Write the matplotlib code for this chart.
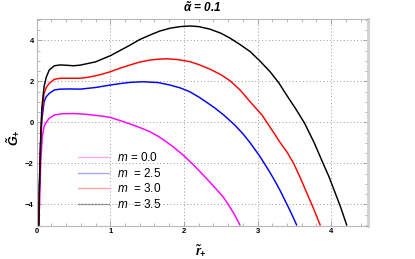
import matplotlib
matplotlib.use("Agg")
import matplotlib.pyplot as plt
from matplotlib.lines import Line2D
from matplotlib.ticker import MultipleLocator

plt.rcParams['font.family'] = ['Liberation Sans', 'DejaVu Sans']
plt.rcParams['mathtext.fontset'] = 'custom'
plt.rcParams['mathtext.rm'] = 'Liberation Sans'
plt.rcParams['mathtext.it'] = 'Liberation Sans:italic'
plt.rcParams['mathtext.bf'] = 'Liberation Sans:bold:italic'

# ---- data ----
r_m00 = [0.027, 0.031, 0.04, 0.054, 0.076, 0.1, 0.12, 0.17, 0.24, 0.35, 0.5, 0.65, 0.8, 0.9, 1.0,
         1.15, 1.3, 1.42, 1.54, 1.65, 1.75, 1.87, 1.99, 2.1, 2.22, 2.33, 2.45, 2.53, 2.6, 2.68, 2.76]
G_m00 = [-5, -4.7, -3.95, -2, -0.7, -0.2, -0.05, 0.2, 0.36, 0.42, 0.43, 0.4, 0.34, 0.3, 0.24,
         0.07, -0.12, -0.28, -0.46, -0.68, -0.92, -1.24, -1.6, -1.97, -2.41, -2.83, -3.3, -3.62,
         -4.0, -4.45, -5]

r_m25 = [0.028, 0.035, 0.045, 0.055, 0.07, 0.1, 0.13, 0.17, 0.24, 0.32, 0.45, 0.59, 0.8, 1.0,
         1.13, 1.27, 1.45, 1.65, 1.81, 1.95, 2.08, 2.2, 2.3, 2.42, 2.54, 2.69, 2.8, 2.9, 3.03,
         3.1, 3.17, 3.25, 3.31, 3.42, 3.48, 3.53]
G_m25 = [-5, -3.4, -2, -0.9, 0.1, 1.0, 1.25, 1.41, 1.58, 1.62, 1.63, 1.62, 1.7, 1.82,
         1.89, 1.95, 1.98, 1.94, 1.82, 1.68, 1.49, 1.24, 1.0, 0.7, 0.36, -0.13, -0.55, -1.0, -1.65,
         -2.05, -2.45, -2.95, -3.35, -4.15, -4.6, -5]

r_m30 = [0.028, 0.035, 0.045, 0.055, 0.07, 0.1, 0.13, 0.17, 0.24, 0.32, 0.42, 0.59, 0.7, 0.8,
         0.9, 1.0, 1.13, 1.27, 1.4, 1.54, 1.65, 1.77, 1.92, 2.08, 2.2, 2.35, 2.5, 2.63, 2.77,
         2.9, 3.06, 3.15, 3.22, 3.3, 3.4, 3.49, 3.58, 3.67, 3.76, 3.85]
G_m30 = [-5, -3.4, -2, -0.8, 0.4, 1.41, 1.7, 1.9, 2.1, 2.15, 2.15, 2.15, 2.2, 2.27,
         2.36, 2.47, 2.64, 2.8, 2.94, 3.04, 3.08, 3.1, 3.06, 2.96, 2.82, 2.6, 2.33, 2.02, 1.55,
         1.0, 0.36, -0.13, -0.5, -0.95, -1.45, -2.0, -2.7, -3.45, -4.2, -5]

r_m35 = [0.028, 0.035, 0.045, 0.055, 0.07, 0.1, 0.13, 0.17, 0.24, 0.32, 0.42, 0.5, 0.59, 0.8,
         1.0, 1.13, 1.27, 1.4, 1.54, 1.67, 1.81, 1.95, 2.08, 2.2, 2.35, 2.5, 2.63, 2.76, 2.9,
         3.03, 3.17, 3.29, 3.4, 3.52, 3.64, 3.77, 3.89, 3.97, 4.05, 4.13, 4.21]
G_m35 = [-5, -3.4, -2, -0.6, 0.7, 1.74, 2.2, 2.55, 2.76, 2.8, 2.78, 2.76, 2.79, 2.95,
         3.25, 3.5, 3.77, 4.04, 4.26, 4.45, 4.59, 4.67, 4.70, 4.67, 4.55, 4.35, 4.1, 3.8, 3.45,
         3.0, 2.47, 1.92, 1.3, 0.65, -0.05, -1.0, -2.0, -2.65, -3.4, -4.15, -5]

series = [
    (r_m00, G_m00, '#ff00ff', '$m$ = 0.0'),
    (r_m25, G_m25, '#0000ff', '$m$  = 2.5'),
    (r_m30, G_m30, '#ff0000', '$m$  = 3.0'),
    (r_m35, G_m35, '#000000', '$m$  = 3.5'),
]

xticks = [0, 1, 2, 3, 4]
yticks = [-4, -2, 0, 2, 4]

fig = plt.figure(figsize=(4.15, 2.59), dpi=100)
ax = fig.add_axes([0.0884, 0.1286, 0.7983, 0.798])

for r, g, c, lab in series:
    ax.plot(r, g, color=c, lw=1.05, solid_joinstyle='round')

ax.set_xlim(0, 4.5)
ax.set_ylim(-5.04, 5.04)
ax.set_xticks(xticks)
ax.set_yticks(yticks)
ax.set_xticklabels([str(t) for t in xticks], fontsize=5.5, fontweight='bold')
ax.set_yticklabels([str(t).replace('-', '\u2212') for t in yticks], fontsize=5.5, fontweight='bold')
ax.xaxis.set_minor_locator(MultipleLocator(0.2))
ax.yaxis.set_minor_locator(MultipleLocator(0.5))
ax.tick_params(which='both', direction='in', top=True, right=True, color='#999999', pad=2)
ax.tick_params(which='major', length=3.5, width=0.6)
ax.tick_params(which='minor', length=2, width=0.5)
ax.grid(True, which='major', linestyle=(0, (1, 2.5)), color='#999999', lw=0.7)
for s in ax.spines.values():
    s.set_color('#b8b8b8')
    s.set_linewidth(0.8)
ax.spines['right'].set_linewidth(2.0)
ax.spines['right'].set_color('#d0d0d0')

ax.set_title(r'$\mathbf{\tilde{\alpha}}$ = 0.1', fontsize=8.5, fontweight='bold', style='italic', pad=5)
fig.text(0.484, 0.035, r'$\mathbf{\tilde{r}_{+}}$', fontsize=9, ha='center', va='center')
fig.text(0.03, 0.47, r'$\mathbf{\tilde{G}_{+}}$', fontsize=9, ha='center', va='center', rotation=90)

handles = [Line2D([], [], color=c, lw=1.0, alpha=0.35) for _, _, c, _ in series]
labels = [lab for _, _, _, lab in series]
ax.legend(handles, labels, loc='upper left', bbox_to_anchor=(0.125, 0.36), frameon=False,
          fontsize=8.5, handlelength=2.6, handletextpad=0.7, labelspacing=0.22,
          borderaxespad=0, borderpad=0)

fig.savefig('out.png', dpi=100)
